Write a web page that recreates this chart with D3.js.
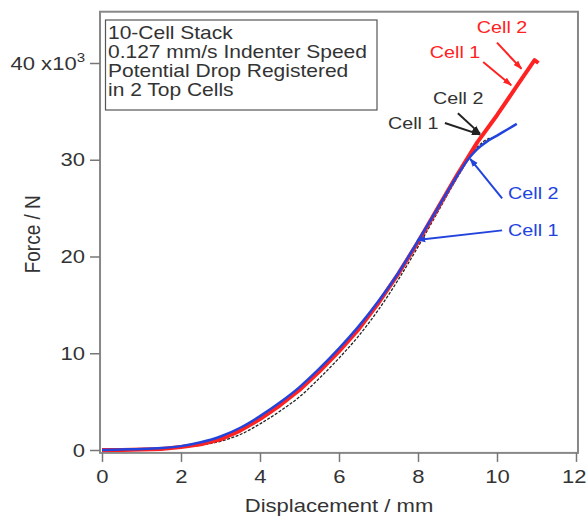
<!DOCTYPE html>
<meta charset="utf-8">
<style>
body{ margin: 0; background: white; font-family: "Liberation Sans", Arial, sans-serif; }
svg{ display: block; }
.axis path{ display: none; }
.axis line{ stroke: #777; stroke-width: 1.5px; }
.axis text{ fill: #333; font-size: 19px; font-family: "Liberation Sans", Arial, sans-serif; }
</style>
<body>
<div id='chart'></div>
<script src="https://cdn.jsdelivr.net/npm/d3@7"></script>
<script>

var width = 587,
    height = 519,
    sx = 1.16   // the source picture is a little wider than tall

// displacement (mm) and force (kN)
var redX   = [0, 0.5, 1, 1.5, 2, 2.5, 3, 3.5, 4, 4.5, 5, 5.5, 6, 6.5, 7, 7.5, 8, 8.5, 9, 9.5, 10, 10.5, 10.95, 11.05]
var redY   = [0, 0, 0.05, 0.1, 0.3, 0.6, 1.1, 2.0, 3.2, 4.6, 6.2, 8.1, 10.2, 12.5, 15.2, 18.2, 21.5, 25.0, 28.5, 31.8, 34.6, 37.6, 40.3, 40.0]

var blueX  = [0, 0.5, 1, 1.5, 2, 2.5, 3, 3.5, 4, 4.5, 5, 5.5, 6, 6.5, 7, 7.5, 8, 8.5, 9, 9.3, 9.5, 9.75, 10, 10.25, 10.5]
var blueY  = [0, 0.05, 0.1, 0.2, 0.4, 0.8, 1.4, 2.3, 3.5, 4.9, 6.5, 8.4, 10.5, 12.8, 15.4, 18.3, 21.6, 25.0, 28.4, 30.2, 31.1, 31.9, 32.5, 33.1, 33.7]

var blackX = [0, 0.5, 1, 1.5, 2, 2.5, 3, 3.5, 4, 4.5, 5, 5.5, 6, 6.5, 7, 7.5, 8, 8.5, 9, 9.5, 9.8, 9.95]
var blackY = [0, 0, 0.05, 0.1, 0.25, 0.5, 0.9, 1.6, 2.7, 4.0, 5.5, 7.4, 9.5, 11.8, 14.5, 17.6, 21.0, 24.6, 28.2, 31.3, 32.2, 32.3]

var xTicks = [0, 2, 4, 6, 8, 10, 12]
var yTicks = [0, 10, 20, 30, 40]

var noteLines = ['10-Cell Stack', '0.127 mm/s Indenter Speed', 'Potential Drop Registered', 'in 2 Top Cells']

// label, colour, label anchor (data), arrow tip (data), arrow tail (data)
var notes = [
  {text: 'Cell 2', color: '#f22', lx: 9.49, ly: 43.7, tx: 10.62, ty: 39.4, ax: 10.0, ay: 42.1},
  {text: 'Cell 1', color: '#f22', lx: 8.3,  ly: 41.1, tx: 10.36, ty: 37.7, ax: 9.65, ay: 40.1},
  {text: 'Cell 2', color: '#222', lx: 8.38, ly: 36.4, tx: 9.57,  ty: 32.7, ax: 9.01, ay: 34.8},
  {text: 'Cell 1', color: '#222', lx: 7.24, ly: 33.8, tx: 9.57,  ty: 32.6, ax: 8.68, ay: 33.8},
  {text: 'Cell 2', color: '#24d', lx: 10.28, ly: 26.6, tx: 9.32, ty: 30.1, ax: 10.13, ay: 26.0},
  {text: 'Cell 1', color: '#24d', lx: 10.28, ly: 22.7, tx: 7.98, ty: 21.7, ax: 10.13, ay: 22.7}
]

var x = d3.scaleLinear().domain([0, 12]).range([102, 576])
var y = d3.scaleLinear().domain([0, 40]).range([450, 63])

var svg = d3.select('#chart').append('svg')
    .attr('width', width)
    .attr('height', height)

var colors = ['#f22', '#222', '#24d']
var defs = svg.append('defs')
colors.forEach(function(c, i){
  defs.append('marker')
      .attr('id', 'arr' + i)
      .attr('viewBox', '0 -5 10 10')
      .attr('refX', 9)
      .attr('markerWidth', 9)
      .attr('markerHeight', 9)
      .attr('markerUnits', 'userSpaceOnUse')
      .attr('orient', 'auto')
    .append('path')
      .attr('d', 'M0,-3.5L10,0L0,3.5Z')
      .style('fill', c)
})

// frame
svg.append('rect')
    .attr('x', x(-0.05)).attr('y', y(45.3))
    .attr('width', x(12.05) - x(-0.05))
    .attr('height', y(-0.3) - y(45.3))
    .style('fill', 'none')
    .style('stroke', '#888')
    .style('stroke-width', 2)

var xa = svg.append('g')
    .attr('class', 'axis')
    .attr('transform', 'translate(0,' + y(-0.3) + ')')
    .call(d3.axisBottom(x).tickValues(xTicks).tickSize(9).tickPadding(8))
xa.selectAll('text')
    .attr('transform', 'scale(' + sx + ',1)')
    .attr('y', 17)
    .attr('x', function(d){ return d == 12 ? -2 : 0 })  // keep the last label inside the window

var ya = svg.append('g')
    .attr('class', 'axis')
    .attr('transform', 'translate(' + x(-0.05) + ',0)')
    .call(d3.axisLeft(y).tickValues(yTicks).tickSize(10).tickFormat(function(d){ return d == 40 ? '' : d }))
ya.selectAll('text')
    .attr('transform', 'scale(' + sx + ',1)')
    .attr('x', -15 / sx)

var topLabel = ya.selectAll('.tick').filter(function(d){ return d == 40 }).select('text')
topLabel.append('tspan').text('40 x10')
topLabel.append('tspan').text('3').attr('dy', -8).style('font-size', '13px')

svg.append('text')
    .attr('transform', 'translate(40,' + y(22.3) + ') rotate(-90) scale(1,' + sx + ')')
    .attr('text-anchor', 'middle')
    .style('font-size', '19px').style('fill', '#333')
    .text('Force / N')

svg.append('text')
    .attr('transform', 'translate(' + x(6) + ',512) scale(' + sx + ',1)')
    .attr('text-anchor', 'middle')
    .style('font-size', '19px').style('fill', '#333')
    .text('Displacement / mm')

// note box
svg.append('rect')
    .attr('x', 105.5).attr('y', 20).attr('width', 271.5).attr('height', 90)
    .style('fill', 'white').style('stroke', '#555').style('stroke-width', 1.2)

svg.append('g').selectAll('text')
    .data(noteLines)
  .enter().append('text')
    .attr('transform', function(d, i){ return 'translate(108,' + (38.5 + i * 19.3) + ') scale(1.2,1)' })
    .style('font-size', '17.5px').style('fill', '#333')
    .text(function(d){ return d })

var line = d3.line()
    .x(function(d){ return x(d[0]) })
    .y(function(d){ return y(d[1]) })
    .curve(d3.curveMonotoneX)

var straight = d3.line()
    .x(function(d){ return x(d[0]) })
    .y(function(d){ return y(d[1]) })

function zip(a, b){ return a.map(function(v, i){ return [v, b[i]] }) }

svg.append('path')
    .attr('d', line(zip(blackX, blackY)))
    .style('fill', 'none').style('stroke', '#222')
    .style('stroke-width', 1.3).style('stroke-dasharray', '3,1.5')

svg.append('path')
    .attr('d', straight(zip(redX, redY)))
    .style('fill', 'none').style('stroke', '#f22')
    .style('stroke-width', 4).style('stroke-linejoin', 'round')

svg.append('path')
    .attr('d', line(zip(blueX, blueY)))
    .style('fill', 'none').style('stroke', '#24d')
    .style('stroke-width', 2.5)

notes.forEach(function(n){
  svg.append('line')
      .attr('x1', x(n.ax)).attr('y1', y(n.ay))
      .attr('x2', x(n.tx)).attr('y2', y(n.ty))
      .style('stroke', n.color).style('stroke-width', 2)
      .attr('marker-end', 'url(#arr' + colors.indexOf(n.color) + ')')
  svg.append('text')
      .attr('transform', 'translate(' + x(n.lx) + ',' + y(n.ly) + ') scale(' + sx + ',1)')
      .attr('dy', '0.35em')
      .style('font-size', '17px')
      .style('fill', n.color == '#222' ? '#333' : n.color)
      .text(n.text)
})

</script>
